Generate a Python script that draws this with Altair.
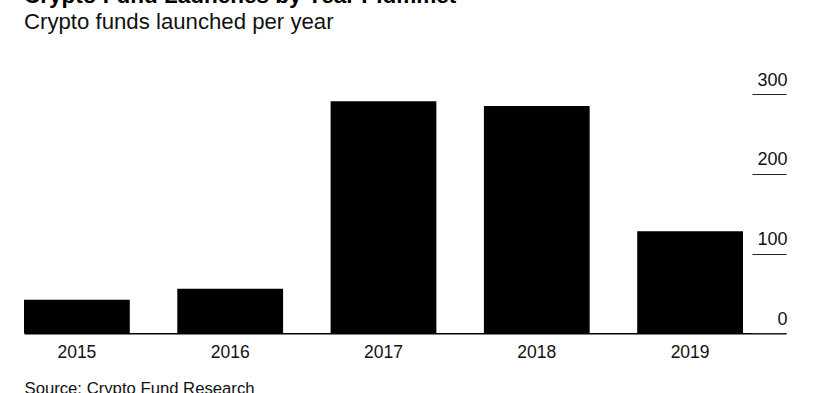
import altair as alt
import pandas as pd

years = ["2015", "2016", "2017", "2018", "2019"]
funds = [42, 56, 291, 285, 128]
y_ticks = [0, 100, 200, 300]

title_text = "Crypto Fund Launches by Year Plummet"
subtitle_text = "Crypto funds launched per year"
source_text = "Source: Crypto Fund Research"

df = pd.DataFrame({"year": years, "funds": funds})

FONT = "Liberation Sans"

chart = (
    alt.Chart(df)
    .mark_bar(color="#000000")
    .encode(
        x=alt.X(
            "year:N",
            sort=years,
            scale=alt.Scale(paddingInner=0.31, paddingOuter=0.1403, align=0),
            axis=alt.Axis(
                title=source_text,
                titleAnchor="start",
                titleAlign="left",
                titleX=0,
                titleY=60,
                titleBaseline="alphabetic",
                titleFontSize=16.7,
                titleFontWeight="normal",
                titleFont=FONT,
                titleColor="#111111",
                labelAngle=0,
                labelFont=FONT,
                labelFontSize=17.5,
                labelColor="#111111",
                labelBaseline="alphabetic",
                labelPadding=24,
                ticks=False,
                tickSize=0,
                domainColor="#000000",
                domainWidth=1.5,
                grid=False,
            ),
        ),
        y=alt.Y(
            "funds:Q",
            scale=alt.Scale(domain=[0, 300], nice=False),
            axis=alt.Axis(
                title=None,
                orient="right",
                values=y_ticks,
                offset=-34,
                domain=False,
                grid=False,
                ticks=True,
                tickSize=34,
                tickColor="#222222",
                tickWidth=1,
                labelAlign="right",
                labelPadding=1,
                labelBaseline="alphabetic",
                labelOffset=-9,
                labelFont=FONT,
                labelFontSize=18,
                labelColor="#111111",
            ),
        ),
    )
    .properties(
        width=762,
        height=239.3,
        autosize=alt.AutoSizeParams(type="none"),
        padding={"left": 24, "top": 94, "right": 31, "bottom": 59.7},
        view=alt.ViewBackground(stroke="transparent", strokeWidth=0, strokeOpacity=0),
        title=alt.TitleParams(
            text=title_text,
            subtitle=subtitle_text,
            anchor="start",
            frame="group",
            font=FONT,
            fontSize=22.5,
            fontWeight="bold",
            color="#000000",
            subtitleFont=FONT,
            subtitleFontSize=22.2,
            subtitleColor="#111111",
            subtitlePadding=4,
            offset=37.5,
        ),
    )
    .configure_view(strokeWidth=0, stroke="transparent", strokeOpacity=0)
    .configure(background="white")
)

chart.save("out.html", embed_options={"renderer": "svg", "actions": False})
